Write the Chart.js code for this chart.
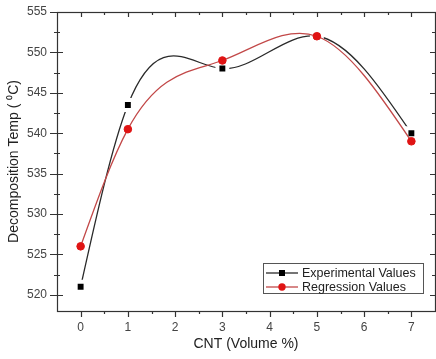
<!DOCTYPE html>
<html>
<head>
<meta charset="utf-8">
<script src="https://cdn.jsdelivr.net/npm/chart.js@4"></script>
<style>
  html, body { margin: 0; padding: 0; background: #fff; }
  canvas { display: block; }
</style>
</head>
<body>
<canvas id="tempChart" width="436" height="359"></canvas>
<script>
/* Datos: temperatura de descomposición vs CNT */
var cntVolume = [0, 1, 3, 5, 7];
var experimental = [521, 543.5, 548, 552, 540];
var regression = [526, 540.5, 549, 552, 539];
var xTickLabels = ['0', '1', '2', '3', '4', '5', '6', '7'];
var yTickLabels = ['520', '525', '530', '535', '540', '545', '550', '555'];

var FONT = '"Liberation Sans", Arial, sans-serif';

function toPoints(ys) {
  return cntVolume.map(function (x, i) { return { x: x, y: ys[i] }; });
}

/* Spline cúbica natural: pone los puntos de control de cada línea */
var naturalSpline = {
  id: 'naturalSpline',
  beforeDatasetDraw: function (chart, args) {
    var meta = args.meta;
    var pts = meta.data;
    var n = pts.length;
    if (n < 3 || !meta.dataset) return;
    var x = pts.map(function (p) { return p.x; });
    var y = pts.map(function (p) { return p.y; });
    var h = [], i;
    for (i = 0; i < n - 1; i++) h.push(x[i + 1] - x[i]);
    // sistema tridiagonal para las segundas derivadas
    var M = new Array(n).fill(0);
    var a = [], b = [], c = [], d = [];
    for (i = 1; i < n - 1; i++) {
      a.push(h[i - 1]);
      b.push(2 * (h[i - 1] + h[i]));
      c.push(h[i]);
      d.push(6 * ((y[i + 1] - y[i]) / h[i] - (y[i] - y[i - 1]) / h[i - 1]));
    }
    var m = b.length;
    for (i = 1; i < m; i++) {
      var w = a[i] / b[i - 1];
      b[i] -= w * c[i - 1];
      d[i] -= w * d[i - 1];
    }
    M[m] = d[m - 1] / b[m - 1];
    for (i = m - 2; i >= 0; i--) M[i + 1] = (d[i] - c[i] * M[i + 2]) / b[i];
    // pendientes en cada nodo
    var s = [];
    for (i = 0; i < n - 1; i++) {
      s.push((y[i + 1] - y[i]) / h[i] - h[i] * (2 * M[i] + M[i + 1]) / 6);
    }
    s.push((y[n - 1] - y[n - 2]) / h[n - 2] + h[n - 2] * (M[n - 2] + 2 * M[n - 1]) / 6);
    for (i = 0; i < n; i++) {
      var p = pts[i];
      var hp = i > 0 ? h[i - 1] / 3 : 0;
      var hn = i < n - 1 ? h[i] / 3 : 0;
      p.cp1x = x[i] - hp; p.cp1y = y[i] - s[i] * hp;
      p.cp2x = x[i] + hn; p.cp2y = y[i] + s[i] * hn;
    }
    meta.dataset._pointsUpdated = true;
    delete meta.dataset._path;
  }
};

/* Marco, marcas de ejes y leyenda estilo Origin */
var frameTicks = {
  id: 'frameTicks',
  afterDatasetsDraw: function (chart) {
    var ctx = chart.ctx;
    var a = chart.chartArea;
    var xs = chart.scales.x, ys = chart.scales.y;
    ctx.save();
    ctx.strokeStyle = '#333';
    ctx.lineWidth = 1.2;
    ctx.strokeRect(a.left + 0.5, a.top + 0.5, a.right - a.left, a.bottom - a.top);

    ctx.beginPath();
    xs.ticks.forEach(function (t) {
      if (t.value <= xs.min || t.value >= xs.max) return;
      var px = Math.round(xs.getPixelForValue(t.value)) + 0.5;
      var major = Number.isInteger(t.value);
      ctx.moveTo(px, a.bottom); ctx.lineTo(px, a.bottom + (major ? 6 : 3));
      ctx.moveTo(px, a.top); ctx.lineTo(px, a.top + (major ? 5 : 3));
    });
    ys.ticks.forEach(function (t) {
      var py = Math.round(ys.getPixelForValue(t.value)) + 0.5;
      var major = t.value % 5 === 0;
      ctx.moveTo(a.left - (major ? 7 : 3), py); ctx.lineTo(a.left + (major ? 6 : 3), py);
      ctx.moveTo(a.right, py); ctx.lineTo(a.right - (major ? 5 : 3), py);
    });
    ctx.stroke();

    // leyenda
    var bw = 160, bh = 30;
    var bx = a.right - 12 - bw, by = a.bottom - 18 - bh;
    ctx.fillStyle = '#fff';
    ctx.fillRect(bx, by, bw, bh);
    ctx.strokeStyle = '#555';
    ctx.lineWidth = 1;
    ctx.strokeRect(bx + 0.5, by + 0.5, bw, bh);
    ctx.font = '12.5px ' + FONT;
    ctx.textBaseline = 'middle';
    chart.data.datasets.forEach(function (ds, i) {
      var cy = by + 10 + i * 14;
      ctx.strokeStyle = ds.borderColor;
      ctx.lineWidth = 1.3;
      ctx.beginPath();
      ctx.moveTo(bx + 3, cy); ctx.lineTo(bx + 35, cy);
      ctx.stroke();
      ctx.fillStyle = ds.pointBackgroundColor;
      if (ds.pointStyle === 'rect') {
        ctx.fillRect(bx + 16, cy - 3, 6, 6);
      } else {
        ctx.beginPath();
        ctx.arc(bx + 19, cy, 3.7, 0, Math.PI * 2);
        ctx.fill();
      }
      ctx.fillStyle = '#222';
      ctx.fillText(ds.label, bx + 39, cy + 0.5);
    });
    ctx.restore();
  }
};

var tempChart = new Chart(document.getElementById('tempChart'), {
  type: 'line',
  data: {
    datasets: [{
      label: 'Experimental Values',
      data: toPoints(experimental),
      borderColor: '#2a2a2a',
      borderWidth: 1.3,
      tension: 0.4,
      pointStyle: 'rect',
      pointRadius: 7,
      pointBackgroundColor: '#000',
      pointBorderColor: '#fff',
      pointBorderWidth: 4,
      order: 2
    }, {
      label: 'Regression Values',
      data: toPoints(regression),
      borderColor: '#c24848',
      borderWidth: 1.3,
      tension: 0.4,
      pointStyle: 'circle',
      pointRadius: 3.8,
      pointBackgroundColor: '#e01414',
      pointBorderColor: '#e01414',
      pointBorderWidth: 1,
      order: 1
    }]
  },
  options: {
    responsive: false,
    animation: false,
    layout: {
      autoPadding: false,
      padding: { top: 12, right: 1, left: 0, bottom: 0 }
    },
    plugins: {
      legend: { display: false },
      tooltip: { enabled: false }
    },
    scales: {
      x: {
        type: 'linear',
        min: -0.5,
        max: 7.5,
        afterFit: function (scale) {
          scale.height = 48;
          scale.paddingLeft = 0;
          scale.paddingRight = 0;
        },
        grid: { display: false, drawTicks: false },
        border: { display: false },
        ticks: {
          stepSize: 0.5,
          autoSkip: false,
          maxRotation: 0,
          padding: 9,
          color: '#444',
          font: { family: FONT, size: 12 },
          callback: function (v) {
            return Number.isInteger(v) && v >= 0 ? xTickLabels[v] : '';
          }
        },
        title: {
          display: true,
          text: 'CNT (Volume %)',
          color: '#222',
          font: { family: FONT, size: 14 },
          padding: { top: 0, bottom: 6 }
        }
      },
      y: {
        min: 518,
        max: 555,
        afterFit: function (scale) {
          scale.width = 57;
          scale.paddingTop = 0;
          scale.paddingBottom = 0;
        },
        grid: { display: false, drawTicks: false },
        border: { display: false },
        ticks: {
          stepSize: 2.5,
          includeBounds: false,
          autoSkip: false,
          padding: 10,
          color: '#444',
          font: { family: FONT, size: 12 },
          callback: function (v) {
            return v % 5 === 0 ? yTickLabels[(v - 520) / 5] : '';
          }
        },
        title: {
          display: true,
          text: 'Decomposition Temp ( \u2070C)',
          color: '#222',
          font: { family: FONT, size: 14 },
          padding: { top: 6, bottom: 0 }
        }
      }
    }
  },
  plugins: [naturalSpline, frameTicks]
});
</script>
</body>
</html>
